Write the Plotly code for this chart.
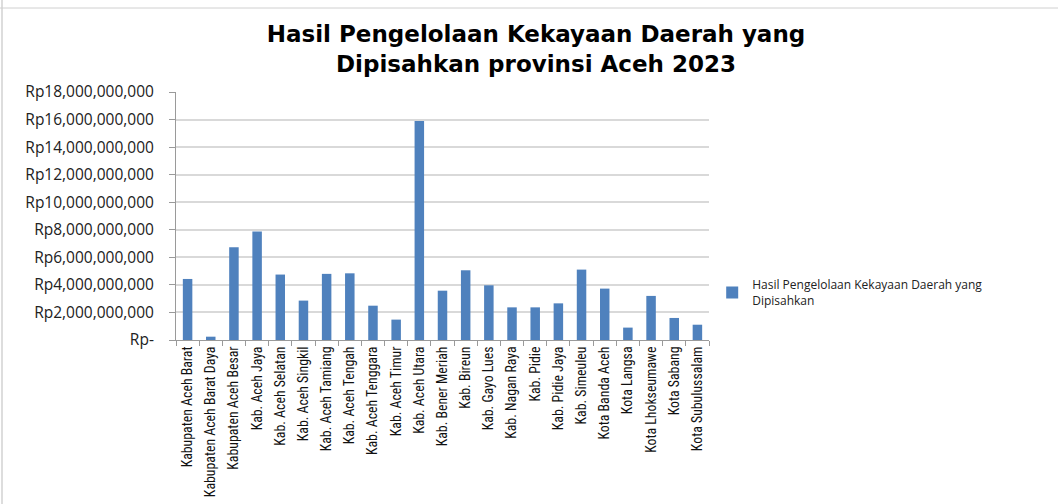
import plotly.graph_objects as go

categories = [
    "Kabupaten Aceh Barat", "Kabupaten Aceh Barat Daya", "Kabupaten Aceh Besar",
    "Kab. Aceh Jaya", "Kab. Aceh Selatan", "Kab. Aceh Singkil", "Kab. Aceh Tamiang",
    "Kab. Aceh Tengah", "Kab. Aceh Tenggara", "Kab. Aceh Timur", "Kab. Aceh Utara",
    "Kab. Bener Meriah", "Kab. Bireun", "Kab. Gayo Lues", "Kab. Nagan Raya",
    "Kab. Pidie", "Kab. Pidie Jaya", "Kab. Simeuleu", "Kota Banda Aceh",
    "Kota Langsa", "Kota Lhokseumawe", "Kota Sabang", "Kota Subulussalam",
]
values = [
    4.43e9, 0.24e9, 6.73e9, 7.87e9, 4.75e9, 2.86e9, 4.80e9, 4.84e9, 2.49e9,
    1.48e9, 15.89e9, 3.58e9, 5.06e9, 3.97e9, 2.37e9, 2.37e9, 2.66e9, 5.11e9,
    3.73e9, 0.90e9, 3.20e9, 1.60e9, 1.11e9,
]
series_name = "Hasil Pengelolaan Kekayaan Daerah yang<br>Dipisahkan"
tick_vals = [0, 2e9, 4e9, 6e9, 8e9, 10e9, 12e9, 14e9, 16e9, 18e9]
tick_text = ["Rp-", "Rp2,000,000,000", "Rp4,000,000,000", "Rp6,000,000,000",
             "Rp8,000,000,000", "Rp10,000,000,000", "Rp12,000,000,000",
             "Rp14,000,000,000", "Rp16,000,000,000", "Rp18,000,000,000"]

fig = go.Figure()
fig.add_trace(go.Bar(
    x=categories, y=values, name=series_name,
    marker=dict(color="#4f81bd", line=dict(width=0)),
    showlegend=True,
))

fig.update_layout(
    width=1058, height=504,
    margin=dict(l=176, r=349, t=92, b=164, autoexpand=False),
    paper_bgcolor="white", plot_bgcolor="white",
    bargap=0.59,
    title=dict(
        text="<b>Hasil Pengelolaan Kekayaan Daerah yang<br>Dipisahkan provinsi Aceh 2023</b>",
        x=536 / 1058, xanchor="center", y=1 - 42 / 504, yanchor="middle",
        font=dict(family="DejaVu Sans, sans-serif", size=23, color="black"),
    ),
    legend=dict(
        x=1.006, xanchor="left", y=0.19, yanchor="middle",
        font=dict(family="Open Sans, sans-serif", size=12, color="#222"),
        bgcolor="rgba(0,0,0,0)", itemwidth=30,
    ),
    font=dict(family="Open Sans, sans-serif", color="#222"),
)

fig.update_yaxes(
    range=[0, 18e9], tickvals=tick_vals, ticktext=tick_text,
    showgrid=True, gridcolor="#d9d9d9", gridwidth=1.5,
    showline=True, linecolor="#9a9a9a", linewidth=1,
    ticks="outside", ticklen=6, tickcolor="#9a9a9a",
    ticklabelstandoff=12, automargin=False,
    tickfont=dict(family="Open Sans, sans-serif", size=15.5, color="#222"),
    zeroline=False,
)
fig.update_xaxes(
    tickangle=-90, tickson="boundaries", ticks="outside", ticklen=5,
    tickcolor="#9a9a9a", showline=True, linecolor="#9a9a9a", linewidth=1,
    automargin=False,
    tickfont=dict(family="Liberation Sans Narrow, Roboto Condensed, Roboto, sans-serif",
                  size=13.8, color="#111"),
)

# chart frame borders (left and top)
fig.add_shape(type="line", xref="paper", yref="paper",
              x0=-174 / 533, x1=-174 / 533, y0=-2, y1=1.4,
              line=dict(color="#bbbbbb", width=1))
fig.add_shape(type="line", xref="paper", yref="paper",
              x0=-0.4, x1=1.7, y0=1 + 84 / 248, y1=1 + 84 / 248,
              line=dict(color="#d0d0d0", width=1))

fig.write_html("out.html")
